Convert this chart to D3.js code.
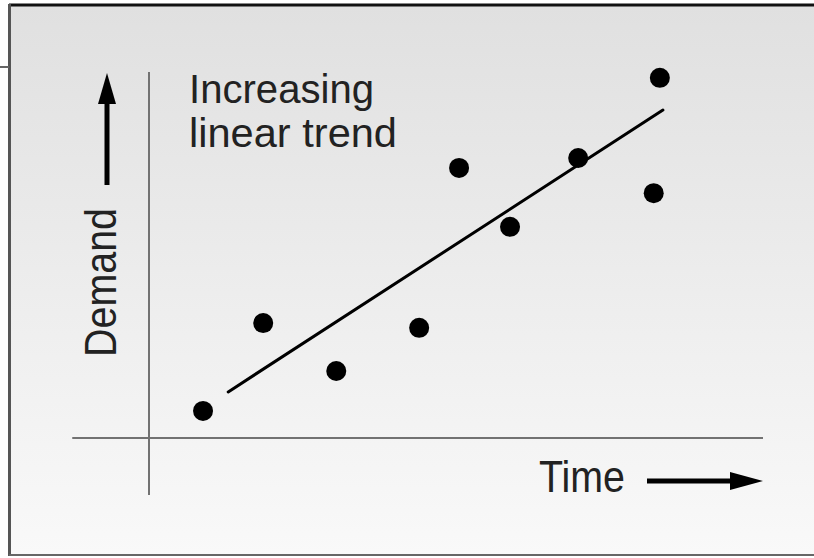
<!DOCTYPE html>
<html>
<head>
<meta charset="utf-8">
<script src="https://cdn.jsdelivr.net/npm/d3@7"></script>
<style>
  html, body { margin: 0; padding: 0; background: #ffffff; }
  svg { display: block; }
</style>
</head>
<body>
<div id="chart"></div>
<script>
// ---- Data (arbitrary units 0-100) ----
const timeValues   = [8.8, 18.6, 30.5, 44.0, 50.5, 58.8, 69.9, 82.2, 83.2];
const demandValues = [7.4, 31.4, 18.3, 30.1, 73.8, 57.7, 76.5, 66.9, 98.4];
const trendTime    = [12.9, 83.7];
const trendDemand  = [12.6, 89.6];
const titleLines   = ["Increasing", "linear trend"];
const xLabel = "Time";
const yLabel = "Demand";

const W = 814, H = 558;
const svg = d3.select("#chart").append("svg").attr("width", W).attr("height", H);

const defs = svg.append("defs");
const grad = defs.append("linearGradient").attr("id", "bg").attr("x1", 0).attr("y1", 0).attr("x2", 0).attr("y2", 1);
grad.append("stop").attr("offset", "0%").attr("stop-color", "#e0e0e0");
grad.append("stop").attr("offset", "100%").attr("stop-color", "#f9f9f9");

// frame
svg.append("rect").attr("x", 10).attr("y", 6).attr("width", W - 10).attr("height", 549).attr("fill", "url(#bg)");
svg.append("line").attr("x1", 9).attr("x2", W).attr("y1", 5).attr("y2", 5).attr("stroke", "#111").attr("stroke-width", 3);
svg.append("line").attr("x1", 9.5).attr("x2", 9.5).attr("y1", 4).attr("y2", 556).attr("stroke", "#555").attr("stroke-width", 3);
svg.append("line").attr("x1", 9).attr("x2", W).attr("y1", 555).attr("y2", 555).attr("stroke", "#666").attr("stroke-width", 2);
svg.append("line").attr("x1", 0).attr("x2", 9).attr("y1", 67).attr("y2", 67).attr("stroke", "#666").attr("stroke-width", 2);

// scales
const x = d3.scaleLinear().domain([0, 100]).range([149, 763]);
const y = d3.scaleLinear().domain([0, 100]).range([438, 72]);

// axes (cross-hair style, no ticks)
const axisColor = "#727272";
svg.append("line").attr("x1", x(-12.5)).attr("x2", x(100)).attr("y1", y(0)).attr("y2", y(0))
  .attr("stroke", axisColor).attr("stroke-width", 2);
svg.append("line").attr("x1", x(0)).attr("x2", x(0)).attr("y1", y(100)).attr("y2", y(-15.6))
  .attr("stroke", axisColor).attr("stroke-width", 2);

// trend line
svg.append("line")
  .attr("x1", x(trendTime[0])).attr("y1", y(trendDemand[0]))
  .attr("x2", x(trendTime[1])).attr("y2", y(trendDemand[1]))
  .attr("stroke", "#000").attr("stroke-width", 3).attr("stroke-linecap", "round");

// points
svg.selectAll("circle.pt").data(timeValues.map((t, i) => [t, demandValues[i]]))
  .enter().append("circle").attr("class", "pt")
  .attr("cx", d => x(d[0])).attr("cy", d => y(d[1])).attr("r", 10).attr("fill", "#000");

// annotation
const font = "'Liberation Sans', Arial, sans-serif";
svg.append("text").attr("x", 189).attr("y", 103).attr("font-family", font).attr("font-size", 41)
  .attr("fill", "#222").attr("textLength", 185).attr("lengthAdjust", "spacingAndGlyphs").text(titleLines[0]);
svg.append("text").attr("x", 189).attr("y", 147).attr("font-family", font).attr("font-size", 41)
  .attr("fill", "#222").attr("textLength", 208).attr("lengthAdjust", "spacingAndGlyphs").text(titleLines[1]);

// x label + arrow
svg.append("text").attr("x", 539).attr("y", 492).attr("font-family", font).attr("font-size", 44)
  .attr("fill", "#222").attr("textLength", 86).attr("lengthAdjust", "spacingAndGlyphs").text(xLabel);
svg.append("line").attr("x1", 647).attr("x2", 735).attr("y1", 481).attr("y2", 481).attr("stroke", "#000").attr("stroke-width", 5);
svg.append("path").attr("d", "M763,481 L730,472 L730,490 Z").attr("fill", "#000");

// y label + arrow
svg.append("text").attr("transform", "translate(116,357) rotate(-90)").attr("font-family", font).attr("font-size", 44)
  .attr("fill", "#222").attr("textLength", 149).attr("lengthAdjust", "spacingAndGlyphs").text(yLabel);
svg.append("line").attr("x1", 107).attr("x2", 107).attr("y1", 185).attr("y2", 100).attr("stroke", "#000").attr("stroke-width", 5);
svg.append("path").attr("d", "M107,73 L98,104 L116,104 Z").attr("fill", "#000");
</script>
</body>
</html>
